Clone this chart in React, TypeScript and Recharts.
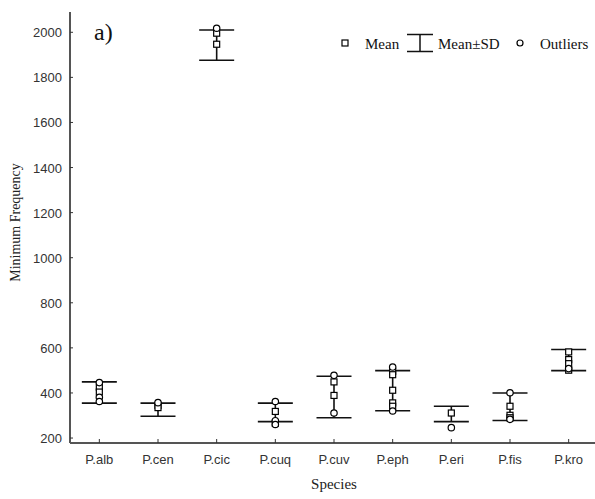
import React from "react";
import { ScatterChart, Scatter, XAxis, YAxis, ErrorBar, Legend } from "recharts";

// values
const species = ["P.alb", "P.cen", "P.cic", "P.cuq", "P.cuv", "P.eph", "P.eri", "P.fis", "P.kro"];
const meanValues = [402, 326, 1943, 314, 382, 410, 307, 339, 546];
const sdValues = [47, 29, 67, 41, 92, 89, 34, 61, 47];
const squareValues = [
  [426, 404],
  [345, 335],
  [1996, 1947],
  [318, 266],
  [449, 389],
  [496, 481, 412, 356, 341],
  [311],
  [341, 301, 290],
  [582, 548, 530, 501],
];
const outlierValues = [
  [446, 381, 362],
  [357],
  [2018],
  [362, 277, 260],
  [478, 311],
  [515, 320],
  [246],
  [401, 283],
  [508],
];
const yTicks = [200, 400, 600, 800, 1000, 1200, 1400, 1600, 1800, 2000];
const xTicks = species.map((_, i) => i);

const sdData = species.map((s, i) => ({ x: i, y: meanValues[i], sd: sdValues[i] }));
const squareData = squareValues.flatMap((vals, i) => vals.map((v) => ({ x: i, y: v })));
const outlierData = outlierValues.flatMap((vals, i) => vals.map((v) => ({ x: i, y: v })));

const sans = "'Liberation Sans', Arial, sans-serif";
const serif = "'Liberation Serif', 'Times New Roman', serif";

const SquareShape = (props: any) => (
  <rect x={props.cx - 3} y={props.cy - 3} width={6} height={6} fill="#fff" stroke="#000" strokeWidth={1.2} />
);
const CircleShape = (props: any) => (
  <circle cx={props.cx} cy={props.cy} r={3.2} fill="#fff" stroke="#000" strokeWidth={1.2} />
);

const XTick = ({ x, y, payload }: any) => (
  <g>
    <line x1={x} y1={y - 4} x2={x} y2={y} stroke="#333" strokeWidth={1} />
    <text x={x} y={y + 20.5} textAnchor="middle" fontFamily={sans} fontSize={13} fill="#333">
      {species[payload.value]}
    </text>
  </g>
);

const YTick = ({ x, y, payload }: any) => (
  <g>
    <line x1={x} y1={y} x2={x + 3} y2={y} stroke="#333" strokeWidth={1} />
    <text x={x - 8} y={y + 5} textAnchor="end" fontFamily={sans} fontSize={13} fill="#333">
      {payload.value}
    </text>
  </g>
);

const LegendContent = () => (
  <svg width={260} height={30}>
    <rect x={4} y={10} width={6} height={6} fill="#fff" stroke="#000" strokeWidth={1.2} />
    <text x={27} y={19} fontFamily={serif} fontSize={15} fill="#111">Mean</text>
    <line x1={69} y1={4.5} x2={95} y2={4.5} stroke="#111" strokeWidth={1.5} />
    <line x1={82} y1={4.5} x2={82} y2={21.5} stroke="#111" strokeWidth={1.5} />
    <line x1={69} y1={21.5} x2={95} y2={21.5} stroke="#111" strokeWidth={1.5} />
    <text x={100} y={19} fontFamily={serif} fontSize={15} fill="#111">Mean±SD</text>
    <circle cx={182} cy={13} r={3} fill="#fff" stroke="#000" strokeWidth={1.2} />
    <text x={202} y={19} fontFamily={serif} fontSize={15} fill="#111">Outliers</text>
  </svg>
);

export default function App() {
  return (
    <div style={{ position: "absolute", left: 0, top: 0, width: 595, height: 499, overflow: "hidden", background: "#fff" }}>
      <ScatterChart width={598} height={499} margin={{ top: 12, right: 0, bottom: 0, left: 0 }}>
        <XAxis
          type="number"
          dataKey="x"
          domain={[-0.5, 8.5]}
          ticks={xTicks}
          interval={0}
          height={56}
          tickSize={0}
          tickMargin={0}
          tickLine={false}
          tick={<XTick />}
          axisLine={{ stroke: "#555", strokeWidth: 2 }}
          label={{
            content: ({ viewBox }: any) => (
              <text x={viewBox.x + viewBox.width / 2} y={viewBox.y + 46} textAnchor="middle" fontFamily={serif} fontSize={15} fill="#222">
                Species
              </text>
            ),
          }}
        />
        <YAxis
          type="number"
          dataKey="y"
          domain={[178, 2090]}
          ticks={yTicks}
          allowDataOverflow
          width={70}
          tickSize={0}
          tickMargin={0}
          tickLine={false}
          tick={<YTick />}
          axisLine={{ stroke: "#555", strokeWidth: 2 }}
          label={{
            content: ({ viewBox }: any) => {
              const cx = 17;
              const cy = viewBox.y + viewBox.height / 2 - 5;
              return (
                <text x={cx} y={cy} transform={`rotate(-90 ${cx} ${cy})`} textAnchor="middle" dominantBaseline="middle" fontFamily={serif} fontSize={14} fill="#222">
                  Minimum Frequency
                </text>
              );
            },
          }}
        />
        <Legend
          layout="vertical"
          align="center"
          verticalAlign="middle"
          content={<LegendContent />}
          wrapperStyle={{ left: 338, top: 30, width: 260, height: 30 }}
        />
        <Scatter name="Mean±SD" data={sdData} shape={() => <g />} isAnimationActive={false}>
          <ErrorBar dataKey="sd" direction="y" width={17.5} stroke="#111" strokeWidth={1.6} isAnimationActive={false} />
        </Scatter>
        <Scatter name="Mean" data={squareData} shape={<SquareShape />} isAnimationActive={false} />
        <Scatter name="Outliers" data={outlierData} shape={<CircleShape />} isAnimationActive={false} />
      </ScatterChart>
      <div style={{ position: "absolute", left: 94, top: 17, fontFamily: serif, fontSize: 24, lineHeight: "30px", color: "#111" }}>
        a)
      </div>
    </div>
  );
}
